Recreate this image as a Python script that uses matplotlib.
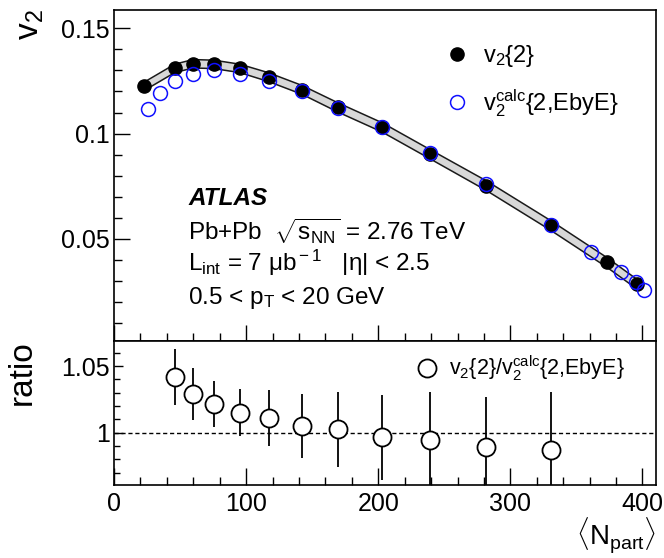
import matplotlib
matplotlib.use('Agg')
import matplotlib.pyplot as plt
from matplotlib.ticker import MultipleLocator, FuncFormatter
from matplotlib.lines import Line2D

plt.rcParams['font.family'] = ['Liberation Sans', 'DejaVu Sans']
plt.rcParams['mathtext.fontset'] = 'custom'
plt.rcParams['mathtext.rm'] = 'Liberation Sans'
plt.rcParams['mathtext.it'] = 'Liberation Sans:italic'
plt.rcParams['mathtext.bf'] = 'Liberation Sans:bold'

# v2{2} (filled black) with systematic band
npart = [22.7, 46.0, 59.8, 75.6, 95.2, 117.1, 142.2, 169.2, 203.0, 239.4, 281.8, 330.4, 373.0, 395.8]
v2_2 = [0.1224, 0.1310, 0.1332, 0.1329, 0.1310, 0.1268, 0.1208, 0.1125, 0.1029, 0.0901, 0.0752, 0.0563, 0.0387, 0.0283]
v2_sys = [0.0020, 0.0020, 0.0020, 0.0020, 0.0020, 0.0021, 0.0021, 0.0022, 0.0022, 0.0022, 0.0023, 0.0023, 0.0023, 0.0023]

# v2calc{2,EbyE} (open blue)
npart_calc = [25.6, 34.9, 46.2, 59.8, 75.6, 95.2, 117.1, 142.2, 169.2, 203.0, 239.4, 281.8, 330.4,
              360.9, 383.6, 395.0, 401.3]
v2_calc = [0.1117, 0.1195, 0.1252, 0.1282, 0.1301, 0.1284, 0.1252, 0.1201, 0.1122, 0.1032, 0.0905,
           0.0759, 0.0567, 0.0435, 0.0340, 0.0293, 0.0253]

# ratio v2{2}/v2calc{2,EbyE}
npart_r = [46.0, 59.8, 75.6, 95.2, 117.1, 142.2, 169.2, 203.0, 239.4, 281.8, 330.4]
ratio = [1.042, 1.029, 1.0215, 1.015, 1.011, 1.005, 1.0025, 0.9965, 0.9945, 0.9895, 0.987]
ratio_err = [0.0209, 0.0196, 0.0171, 0.0178, 0.0213, 0.0238, 0.0281, 0.0316, 0.0363, 0.0375, 0.0438]

fig = plt.figure(figsize=(6.64, 5.58), dpi=100)
ax1 = fig.add_axes([0.1717, 0.3894, 0.8158, 0.5935])
ax2 = fig.add_axes([0.1717, 0.1308, 0.8158, 0.2586])

fmt = FuncFormatter(lambda v, p: '%g' % round(v, 4))

# --- upper panel
lo = [v - s for v, s in zip(v2_2, v2_sys)]
hi = [v + s for v, s in zip(v2_2, v2_sys)]
ax1.fill_between(npart, lo, hi, color='#d8d8d8', lw=0, zorder=1)
ax1.plot(npart, lo, color='#1a1a1a', lw=1.1, zorder=2)
ax1.plot(npart, hi, color='#1a1a1a', lw=1.1, zorder=2)
ax1.plot(npart, v2_2, 'o', color='black', ms=9.5, zorder=3, label='v$_2${2}')
ax1.plot(npart_calc, v2_calc, 'o', mfc='none', mec='#1010ff', mew=1.1, ms=10, zorder=4,
         label='v$_2^{\\rm calc}${2,EbyE}')

ax1.set_xlim(0, 410)
ax1.set_ylim(0.0014, 0.159)
ax1.yaxis.set_major_locator(MultipleLocator(0.05))
ax1.yaxis.set_minor_locator(MultipleLocator(0.01))
ax1.xaxis.set_major_locator(MultipleLocator(100))
ax1.xaxis.set_minor_locator(MultipleLocator(20))
ax1.yaxis.set_major_formatter(fmt)
ax1.tick_params(which='both', direction='in', top=False, right=False, labelbottom=False,
                labelsize=18, pad=3, width=1)
ax1.tick_params(which='major', length=11.5)
ax1.tick_params(which='minor', length=6)
ax1.set_ylabel('v$_2$', fontsize=24, loc='top')
ax1.yaxis.set_label_coords(-0.125, 1.0)

ax1.legend(loc='upper left', bbox_to_anchor=(0.612, 0.898), frameon=False, fontsize=17,
           handlelength=1.0, handletextpad=0.6, labelspacing=0.75, borderpad=0, borderaxespad=0)

ax1.text(0.137, 0.43, 'ATLAS', transform=ax1.transAxes, fontsize=17.5, fontweight='bold',
         style='italic', va='center')
ax1.text(0.137, 0.331, 'Pb+Pb  $\\sqrt{\\mathrm{s}_{\\mathrm{NN}}}$ = 2.76 TeV', transform=ax1.transAxes,
         fontsize=17.5, va='center')
ax1.text(0.137, 0.235, 'L$_{\\rm int}$ = 7 μb$^{\\rm -1}$   |η| < 2.5', transform=ax1.transAxes,
         fontsize=17.5, va='center')
ax1.text(0.137, 0.130, '0.5 < p$_{\\rm T}$ < 20 GeV', transform=ax1.transAxes,
         fontsize=17.5, va='center')

# --- lower panel
ax2.axhline(1.0, color='black', lw=1.0, ls=(0, (3, 2)), zorder=1)
ax2.errorbar(npart_r, ratio, yerr=ratio_err, fmt='o', mfc='white', mec='black', mew=1.3, ms=13,
             ecolor='black', elinewidth=1.3, capsize=0, zorder=3)
h = Line2D([], [], ls='none', marker='o', mfc='white', mec='black', mew=1.3, ms=13)
ax2.legend([h], ['v$_2${2}/v$_2^{\\rm calc}${2,EbyE}'], loc='upper left',
           bbox_to_anchor=(0.558, 0.91), frameon=False, fontsize=15.5, handlelength=1.0,
           handletextpad=0.5, borderpad=0, borderaxespad=0)

ax2.set_xlim(0, 410)
ax2.set_ylim(0.9608, 1.069)
ax2.yaxis.set_major_locator(MultipleLocator(0.05))
ax2.yaxis.set_minor_locator(MultipleLocator(0.01))
ax2.xaxis.set_major_locator(MultipleLocator(100))
ax2.xaxis.set_minor_locator(MultipleLocator(20))
ax2.yaxis.set_major_formatter(fmt)
ax2.tick_params(which='both', direction='in', top=False, right=False, labelsize=18, width=1)
ax2.tick_params(axis='x', which='major', length=12, pad=5)
ax2.tick_params(axis='x', which='minor', length=6)
ax2.tick_params(axis='y', which='major', length=6.5, pad=3)
ax2.tick_params(axis='y', which='minor', length=4.3)
ax2.set_ylabel('ratio', fontsize=24, loc='top')
ax2.yaxis.set_label_coords(-0.14, 1.0)
ax2.set_xlabel('$\\langle\\mathrm{N}_{\\mathrm{part}}\\rangle$', fontsize=20, loc='right')
ax2.xaxis.set_label_coords(1.0, -0.215)

for ax in (ax1, ax2):
    for sp in ax.spines.values():
        sp.set_linewidth(1.2)

fig.savefig('out.png', dpi=100)
